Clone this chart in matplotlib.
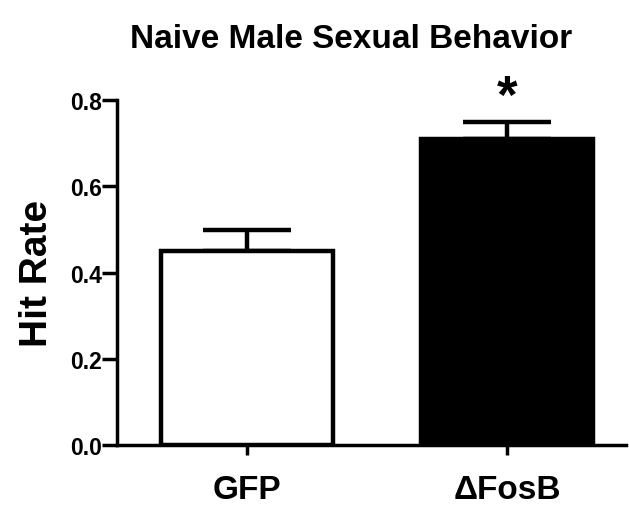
import matplotlib
matplotlib.use("Agg")
import matplotlib.pyplot as plt

categories = ["GFP", "\u0394FosB"]
means = [0.45, 0.71]
sem = [0.05, 0.04]
colors = ["white", "black"]
yticks = [0.0, 0.2, 0.4, 0.6, 0.8]

plt.rcParams['font.family'] = ['Liberation Sans', 'DejaVu Sans']
plt.rcParams['font.weight'] = 'bold'

fig = plt.figure(figsize=(6.29, 5.06), dpi=100)
ax = fig.add_axes([0.186, 0.118, 0.81, 0.682])

x = list(range(len(categories)))
ax.bar(x, means, width=0.66, color=colors, edgecolor="black", linewidth=3.2, zorder=2)
ax.errorbar(x, means, yerr=[[0, 0], sem], fmt="none", ecolor="black",
            elinewidth=3.2, capsize=32, capthick=3.2, zorder=1)

ax.text(x[1], means[1] + sem[1] + 0.055, "*", ha="center", va="center",
        fontsize=38, fontweight="bold")

ax.set_xlim(-0.5, 1.46)
ax.set_ylim(0, 0.8)
ax.set_xticks(x)
ax.set_xticklabels(categories, fontsize=24, fontweight="bold")
ax.set_yticks(yticks)
ax.set_yticklabels([f"{v:.1f}" for v in yticks], fontsize=16.5, fontweight="bold")
ax.set_ylabel("Hit Rate", fontsize=28, fontweight="bold", labelpad=11)
ax.spines["top"].set_visible(False)
ax.spines["right"].set_visible(False)
ax.spines["left"].set_linewidth(2.5)
ax.spines["bottom"].set_linewidth(2.5)
ax.tick_params(axis="y", length=11, width=2.5, pad=0)
ax.tick_params(axis="x", length=7, width=2.5, pad=14)

fig.text(0.558, 0.922, "Naive Male Sexual Behavior", ha="center", va="center",
         fontsize=24, fontweight="bold")

fig.savefig("out.png", dpi=100)
